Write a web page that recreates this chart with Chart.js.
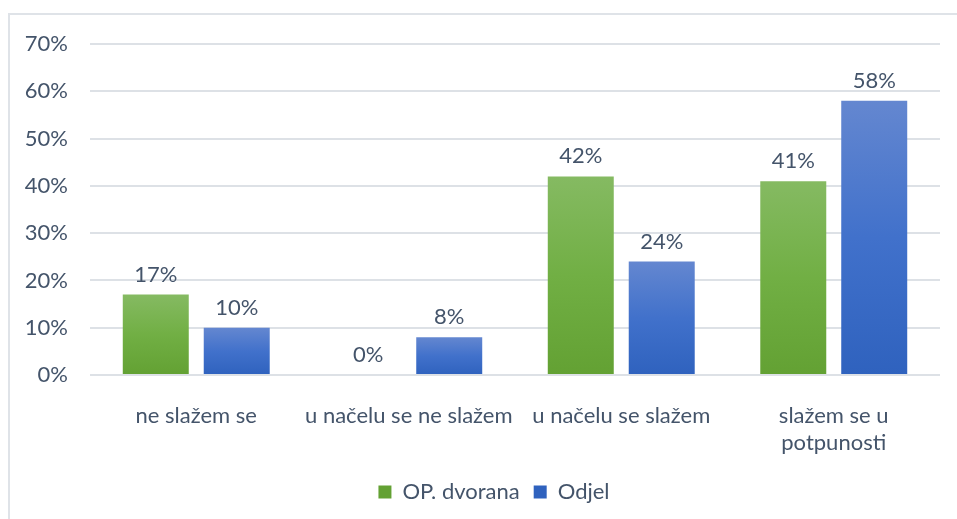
<!DOCTYPE html>
<html>
<head>
<meta charset="utf-8">
<style>
  html, body { margin: 0; padding: 0; background: #fff; }
  #wrap { position: relative; width: 957px; height: 519px; overflow: hidden; }
  #frame { position: absolute; left: 8px; top: 13px; width: 1000px; height: 600px;
           border-left: 2px solid #dfe3e8; border-top: 2px solid #dfe3e8; }
  canvas { position: absolute; left: 0; top: 0; }
</style>
<script src="https://cdn.jsdelivr.net/npm/chart.js@4.4.0/dist/chart.umd.min.js"></script>
</head>
<body>
<div id="wrap">
  <div id="frame"></div>
  <canvas id="chart" width="957" height="519"></canvas>
</div>
<script>
    const categories = ['ne slažem se', 'u načelu se ne slažem', 'u načelu se slažem', ['slažem se u', 'potpunosti']];
    const seriesNames = ['OP. dvorana', 'Odjel'];
    const dvoranaValues = [17, 0, 42, 41];
    const odjelValues = [10, 8, 24, 58];
    const yTicks = [0, 10, 20, 30, 40, 50, 60, 70];

    const textColor = '#44546a';
    const fontFamily = 'Lato, "Noto Sans", sans-serif';
    const fontSize = 22;

    // per-bar vertical gradient, lighter at the top like the Excel original
    function barGradient(topColor, midColor, bottomColor) {
        return (context) => {
            const chart = context.chart;
            if (!chart.chartArea || !chart.scales.y) return bottomColor;
            const y = chart.scales.y;
            const top = y.getPixelForValue(context.raw);
            const bottom = y.getPixelForValue(0);
            if (bottom - top < 1) return bottomColor;
            const g = chart.ctx.createLinearGradient(0, top, 0, bottom);
            g.addColorStop(0, topColor);
            g.addColorStop(0.5, midColor);
            g.addColorStop(1, bottomColor);
            return g;
        };
    }

    // value labels above every bar
    const valueLabels = {
        id: 'valueLabels',
        afterDatasetsDraw(chart) {
            const ctx = chart.ctx;
            ctx.save();
            ctx.font = fontSize + 'px ' + fontFamily;
            ctx.fillStyle = textColor;
            ctx.textAlign = 'center';
            ctx.textBaseline = 'bottom';
            chart.data.datasets.forEach((ds, i) => {
                chart.getDatasetMeta(i).data.forEach((bar, j) => {
                    ctx.fillText(ds.data[j] + '%', bar.x, bar.y - 9);
                });
            });
            ctx.restore();
        }
    };

    // the original legend sits a bit right of the page centre
    const legendShift = {
        id: 'legendShift',
        afterLayout(chart) {
            if (chart.legend) {
                chart.legend.left += 24;
                chart.legend.right += 24;
            }
        }
    };

    const ctx = document.getElementById('chart').getContext('2d');
    new Chart(ctx, {
        type: 'bar',
        data: {
            labels: categories,
            datasets: [{
                label: seriesNames[0],
                data: dvoranaValues,
                backgroundColor: barGradient('#85ba62', '#71af44', '#63a133'),
                categoryPercentage: 0.762,
                barPercentage: 0.815
            }, {
                label: seriesNames[1],
                data: odjelValues,
                backgroundColor: barGradient('#6487d0', '#4171cb', '#2f62be'),
                categoryPercentage: 0.762,
                barPercentage: 0.815
            }]
        },
        options: {
            responsive: false,
            animation: false,
            layout: { padding: { left: 0, right: 17, top: 44, bottom: 6 } },
            scales: {
                x: {
                    grid: { display: false },
                    border: { display: false },
                    ticks: { color: textColor, font: { family: fontFamily, size: fontSize }, padding: 20, maxRotation: 0, autoSkip: false },
                    afterFit: (s) => { s.height = 92; }
                },
                y: {
                    min: 0,
                    max: 70,
                    afterBuildTicks: (s) => { s.ticks = yTicks.map(v => ({ value: v })); },
                    grid: { color: '#dde1e6', lineWidth: 2, drawTicks: false },
                    border: { display: false },
                    ticks: { color: textColor, font: { family: fontFamily, size: fontSize }, padding: 22, callback: (v) => v + '%' },
                    afterFit: (s) => { s.width = 90; }
                }
            },
            plugins: {
                legend: {
                    position: 'bottom',
                    labels: { color: textColor, font: { family: fontFamily, size: fontSize }, boxWidth: 13, boxHeight: 13, padding: 14 }
                },
                tooltip: { enabled: false }
            }
        },
        plugins: [valueLabels, legendShift]
    });
</script>
</body>
</html>
